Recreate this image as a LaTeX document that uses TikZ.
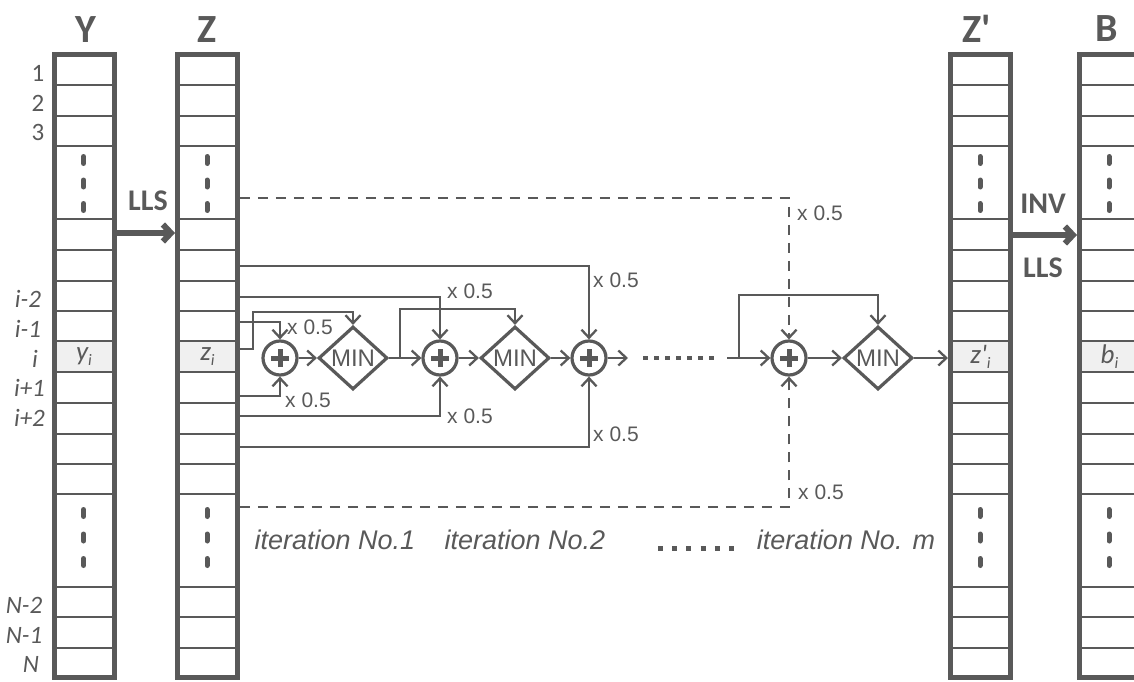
\documentclass[tikz,border=0pt]{standalone}
\usepackage{fontspec}
\setmainfont{Liberation Sans}
\newfontfamily\calfont{Carlito}
\usetikzlibrary{arrows.meta,shapes.geometric}
\definecolor{dg}{RGB}{89,89,89}
\definecolor{hl}{RGB}{240,240,240}
\begin{document}
\begin{tikzpicture}[x=1pt,y=-1pt,
  every node/.style={text=dg, inner sep=0pt},
  colframe/.style={draw=dg, line width=5pt, rectangle, minimum width=60pt, minimum height=623pt},
  rowline/.style={draw=dg, line width=2.5pt},
  vdot/.style={draw=dg, line width=5pt, line cap=round},
  conn/.style={draw=dg, line width=2.3pt, -{Straight Barb[length=8pt,width=15pt]}},
  dconn/.style={conn, dash pattern=on 10pt off 8pt},
  bigarrow/.style={draw=dg, line width=6pt, -{Straight Barb[length=8pt,width=17pt]}},
  adder/.style={circle, draw=dg, fill=white, line width=3.2pt, minimum size=34pt,
    path picture={\draw[dg, line width=5pt] (path picture bounding box.center) ++(-9pt,0) -- ++(18pt,0)
      (path picture bounding box.center) ++(0,-9pt) -- ++(0,18pt);}},
  minbox/.style={diamond, draw=dg, fill=white, line width=3.2pt, aspect=1.1, minimum width=69pt, minimum height=63pt,
    font=\fontsize{24}{24}\selectfont},
  factor/.style={anchor=west, font=\fontsize{21}{21}\selectfont},
  title/.style={font=\calfont\bfseries\fontsize{40}{40}\selectfont},
  optxt/.style={font=\calfont\bfseries\fontsize{30}{30}\selectfont},
  idx/.style={font=\calfont\fontsize{25}{25}\selectfont},
  iidx/.style={font=\calfont\itshape\fontsize{25}{25}\selectfont},
  cell/.style={font=\calfont\itshape\fontsize{27}{27}\selectfont},
  iter/.style={font=\itshape\fontsize{27}{27}\selectfont},
  sqdots/.style={draw=dg, line width=4pt}
]
\useasboundingbox (0,0) rectangle (1134,682);
\clip (0,0) rectangle (1134,682);

% columns
\foreach \cx/\nm in {84/Y,207.5/Z,980.5/Zp,1109.5/B} {
  \fill[hl] (\cx-28,342) rectangle (\cx+28,371);
  \foreach \yy in {85,116,146,219,250,281,311,341,372,403,434,464,494,587,617,648}
    \draw[rowline] (\cx-30,\yy) -- (\cx+30,\yy);
  \node[colframe] (\nm) at (\cx,366) {};
  \foreach \yy in {160,183.5,207,513,537.5,562}
    \draw[vdot] (\cx-0.5,\yy-3.5) -- (\cx-0.5,\yy+3.5);
}

% titles
\node[title] (tY) at (86,29.5) {Y};
\node[title] (tZ) at (207,29.5) {Z};
\node[title] (tZp) at (977,29) {Z'};
\node[title] (tB) at (1107,29) {B};

% row indices
\node[idx] (n1) at (38,73) {1};
\node[idx] (n2) at (38,103) {2};
\node[idx] (n3) at (38,132) {3};
\node[iidx] (im2) at (28,299) {i-2};
\node[iidx] (im1) at (28,329) {i-1};
\node[iidx] (i0) at (35,359) {i};
\node[iidx] (ip1) at (29.5,388) {i+1};
\node[iidx] (ip2) at (29.5,418) {i+2};
\node[iidx] (nm2) at (24,605) {N-2};
\node[iidx] (nm1) at (24,635) {N-1};
\node[iidx] (nn) at (31,664) {N};

% cell labels
\node[cell] (yi) at (84,357) {y\raisebox{-5pt}{\fontsize{16}{16}\selectfont i}};
\node[cell] (zi) at (207.5,357) {z\raisebox{-5pt}{\fontsize{16}{16}\selectfont i}};
\node[cell] (zpi) at (980.5,357) {z'\raisebox{-5pt}{\fontsize{16}{16}\selectfont i}};
\node[cell] (bi) at (1109.5,357) {b\raisebox{-5pt}{\fontsize{16}{16}\selectfont i}};

% LLS / INV LLS arrows
\coordinate (lls) at (0,233);
\coordinate (inv) at (0,235);
\draw[bigarrow] (Y.east |- lls) -- (Z.west |- lls);
\node[optxt] (tLLS) at (148,201) {LLS};
\draw[bigarrow] (Zp.east |- inv) -- (B.west |- inv);
\node[optxt] (tINV) at (1043,204) {INV};
\node[optxt] (tLLS2) at (1043,268) {LLS};

% processing nodes
\node[adder] (c1) at (280,358) {};
\node[minbox] (m1) at (353,358) {MIN};
\node[adder] (c2) at (440,358) {};
\node[minbox] (m2) at (515,358) {MIN};
\node[adder] (c3) at (589,358) {};
\node[adder] (cm) at (789,358) {};
\node[minbox] (mm) at (878,358) {MIN};

% start points on Z
\coordinate (s266) at (239.75,266);
\coordinate (s297) at (239.75,297);
\coordinate (s322) at (239.75,322);
\coordinate (s349) at (239.75,349);
\coordinate (s396) at (239.75,396);
\coordinate (s416) at (239.75,416);
\coordinate (s447) at (239.75,447);
\coordinate (s198) at (239.75,198);
\coordinate (s507) at (239.75,507);

% iteration 1
\draw[conn] (s322) -| (c1);
\draw[conn] (s396) -| (c1);
\draw[conn] (s349) -- (253,349) -- (253,312) -| (m1);
\draw[conn] (c1) -- (m1);
\node[factor] (f1a) at (287,327) {x 0.5};
\node[factor] (f1b) at (285,400) {x 0.5};

% iteration 2
\coordinate (b1) at (400,358);
\draw[conn] (m1) -- (c2);
\draw[conn] (b1) -- (400,309) -| (m2);
\draw[conn] (s297) -| (c2);
\draw[conn] (s416) -| (c2);
\draw[conn] (c2) -- (m2);
\draw[conn] (m2) -- (c3);
\node[factor] (f2a) at (447,291) {x 0.5};
\node[factor] (f2b) at (447,416) {x 0.5};

% iteration 3 inputs
\draw[conn] (s266) -| (c3);
\draw[conn] (s447) -| (c3);
\node[factor] (f3a) at (593,280) {x 0.5};
\node[factor] (f3b) at (593,434) {x 0.5};
\coordinate (o3) at (628,358);
\draw[conn] (c3) -- (o3);

% dotted continuation
\coordinate (d1) at (643,358);
\coordinate (d2) at (720,358);
\draw[sqdots, line width=4.5pt, dash pattern=on 4.5pt off 6.5pt] (d1) -- (d2);

% iteration m
\coordinate (inm) at (727,358);
\coordinate (bm) at (739,358);
\draw[conn] (inm) -- (cm);
\draw[conn] (bm) -- (739,295) -| (mm);
\draw[dconn] (s198) -| (cm);
\draw[dconn] (s507) -| (cm);
\node[factor] (fma) at (797,213) {x 0.5};
\node[factor] (fmb) at (798,492) {x 0.5};
\draw[conn] (cm) -- (mm);
\draw[conn] (mm) -- (Zp.west |- mm);

% iteration captions
\node[iter] (it1) at (335,540) {iteration No.1};
\node[iter] (it2) at (525,540) {iteration No.2};
\coordinate (e1) at (658,548);
\coordinate (e2) at (734,548);
\draw[sqdots, line width=5pt, dash pattern=on 5pt off 9.2pt] (e1) -- (e2);
\node[iter] (itm) at (846,540) {iteration No. m};
\end{tikzpicture}
\end{document}
